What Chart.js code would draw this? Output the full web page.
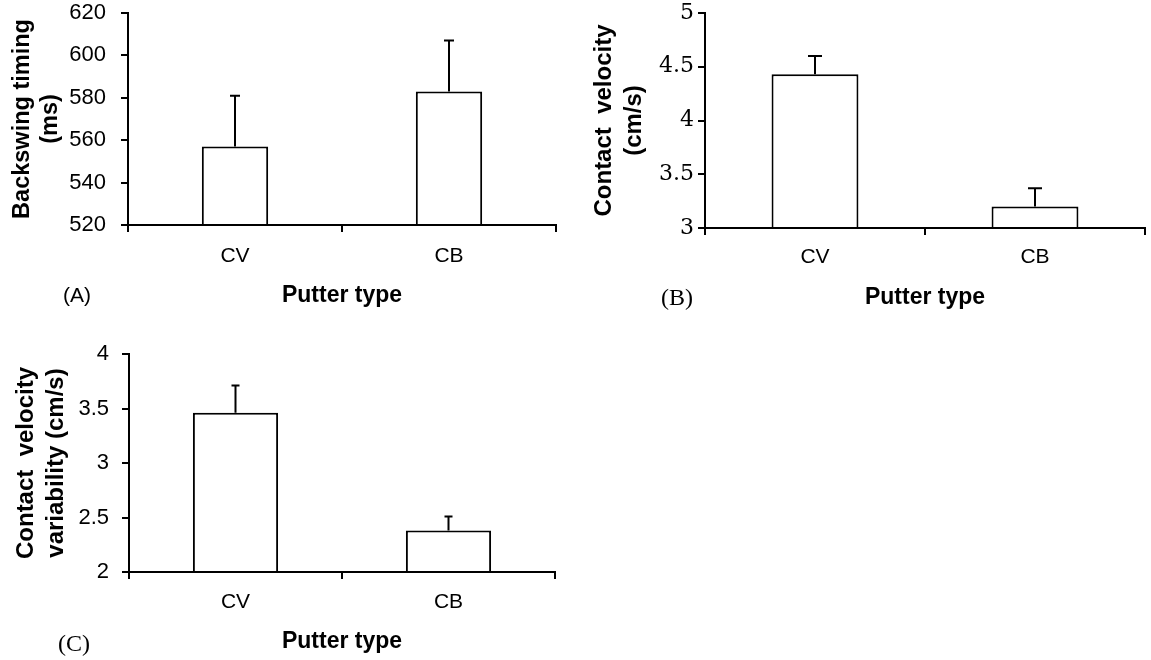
<!DOCTYPE html>
<html>
<head>
<meta charset="utf-8">
<script src="https://cdn.jsdelivr.net/npm/chart.js@4.4.0/dist/chart.umd.min.js"></script>
<style>
  body { margin: 0; background: #fff; width: 1151px; height: 660px; position: relative; overflow: hidden; }
  .panel { position: absolute; }
  .tag { position: absolute; color: #000; line-height: 1; }
</style>
</head>
<body>
<div class="panel" style="left:0;top:0;width:575px;height:320px"><canvas id="chartA"></canvas></div>
<div class="panel" style="left:575px;top:0;width:576px;height:320px"><canvas id="chartB"></canvas></div>
<div class="panel" style="left:0;top:330px;width:575px;height:330px"><canvas id="chartC"></canvas></div>
<div class="tag" style="left:63px;top:284px;font-size:21px;font-family:'Liberation Sans'">(A)</div>
<div class="tag" style="left:661px;top:285px;font-size:24px;font-family:'Liberation Serif'">(B)</div>
<div class="tag" style="left:58px;top:631px;font-size:24px;font-family:'Liberation Serif'">(C)</div>
<script>
const categories = ["CV", "CB"];

// (A) backswing timing, ms
const timingMeans = [557, 583];
const timingErrTops = [581, 607];
const timingTicks = [520, 540, 560, 580, 600, 620];

// (B) contact velocity, cm/s
const velocityMeans = [4.43, 3.2];
const velocityErrTops = [4.6, 3.37];
const velocityTicks = [3, 3.5, 4, 4.5, 5];

// (C) contact velocity variability, cm/s
const variabilityMeans = [3.46, 2.38];
const variabilityErrTops = [3.71, 2.51];
const variabilityTicks = [2, 2.5, 3, 3.5, 4];

// error bar whiskers, drawn through the y scale
const errorBars = {
  id: "errorBars",
  afterDatasetsDraw(chart, args, opts) {
    const { ctx } = chart;
    const y = chart.scales.y;
    const meta = chart.getDatasetMeta(0);
    ctx.save();
    ctx.strokeStyle = "#000";
    ctx.lineWidth = 2;
    meta.data.forEach((bar, i) => {
      const top = y.getPixelForValue(opts.tops[i]);
      ctx.beginPath();
      ctx.moveTo(bar.x, bar.y);
      ctx.lineTo(bar.x, top);
      ctx.moveTo(bar.x - opts.cap, top);
      ctx.lineTo(bar.x + opts.cap, top);
      ctx.stroke();
    });
    ctx.restore();
  },
};

function makeChart(id, cfg) {
  return new Chart(document.getElementById(id), {
    type: "bar",
    data: {
      labels: categories,
      datasets: [
        {
          data: cfg.means,
          base: cfg.ticks[0],
          backgroundColor: "#fff",
          borderColor: "#000",
          borderWidth: 2,
          categoryPercentage: 1,
          barPercentage: cfg.barPct,
        },
      ],
    },
    plugins: [errorBars],
    options: {
      responsive: true,
      maintainAspectRatio: false,
      animation: false,
      layout: { padding: cfg.padding },
      plugins: {
        legend: { display: false },
        tooltip: { enabled: false },
        errorBars: { tops: cfg.errTops, cap: cfg.cap },
      },
      scales: {
        x: {
          afterFit: (s) => {
            s.height = cfg.xHeight;
            s.paddingLeft = 0;
            s.paddingRight = 0;
          },
          grid: { display: true, drawOnChartArea: false, offset: true, tickLength: 7, color: "#000", lineWidth: 2 },
          border: { display: true, color: "#000", width: 2 },
          ticks: { color: "#000", padding: cfg.xTickPad, font: { family: "Liberation Sans", size: 21 } },
          title: {
            display: true,
            text: "Putter type",
            color: "#000",
            padding: { top: 0, bottom: cfg.xTitlePad },
            font: { family: "Liberation Sans", size: 23, weight: "bold" },
          },
        },
        y: {
          min: cfg.ticks[0],
          max: cfg.ticks[cfg.ticks.length - 1],
          afterFit: (s) => {
            s.width = cfg.yWidth;
            // keep the plot box where the layout padding puts it
            s.paddingTop = 0;
            s.paddingBottom = 0;
          },
          afterBuildTicks: (s) => { s.ticks = cfg.ticks.map((v) => ({ value: v })); },
          grid: { display: true, drawOnChartArea: false, tickLength: 7, color: "#000", lineWidth: 2 },
          border: { display: true, color: "#000", width: 2 },
          ticks: {
            color: "#000",
            padding: cfg.yTickPad,
            font: cfg.tickFont,
            callback: (v) => String(v),
          },
          title: {
            display: true,
            text: cfg.yTitle,
            color: "#000",
            padding: { top: cfg.yTitlePad, bottom: 0 },
            font: { family: "Liberation Sans", size: cfg.yTitleSize, weight: "bold", lineHeight: 1.22 },
          },
        },
      },
    },
  });
}

makeChart("chartA", {
  means: timingMeans, errTops: timingErrTops, ticks: timingTicks,
  barPct: 0.31, cap: 5,
  tickFont: { family: "Liberation Sans", size: 22 }, yTickPad: 15,
  yTitle: ["Backswing timing", "(ms)"], yTitleSize: 23.5, yTitlePad: 8,
  padding: { left: 0, top: 13, right: 19, bottom: 0 },
  yWidth: 128, xHeight: 95, xTickPad: 12, xTitlePad: 11,
});

makeChart("chartB", {
  means: velocityMeans, errTops: velocityErrTops, ticks: velocityTicks,
  barPct: 0.395, cap: 7,
  tickFont: { family: "DejaVu Serif", size: 22 }, yTickPad: 4,
  yTitle: ["Contact  velocity", "(cm/s)"], yTitleSize: 24, yTitlePad: 15,
  padding: { left: 0, top: 13, right: 6, bottom: 0 },
  yWidth: 130, xHeight: 92, xTickPad: 10, xTitlePad: 9,
});

makeChart("chartC", {
  means: variabilityMeans, errTops: variabilityErrTops, ticks: variabilityTicks,
  barPct: 0.40, cap: 4,
  tickFont: { family: "Liberation Sans", size: 22 }, yTickPad: 13,
  yTitle: ["Contact  velocity", "variability (cm/s)"], yTitleSize: 24, yTitlePad: 12,
  padding: { left: 0, top: 24, right: 20, bottom: 0 },
  yWidth: 129, xHeight: 88, xTickPad: 11, xTitlePad: 5,
});
</script>
</body>
</html>
